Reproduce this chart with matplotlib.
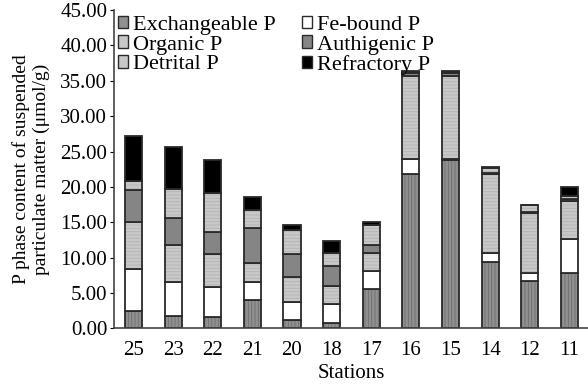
import matplotlib
matplotlib.use('Agg')
import matplotlib.pyplot as plt
import numpy as np
from matplotlib.patches import Patch

plt.rcParams['font.family'] = ['Liberation Serif', 'DejaVu Serif']
plt.rcParams['hatch.linewidth'] = 0.6

# dados (umol/g), de baixo para cima
estacoes = ['25', '23', '22', '21', '20', '18', '17', '16', '15', '14', '12', '11']
exch = [2.5, 1.75, 1.55, 4.0, 1.2, 0.8, 5.6, 21.8, 23.8, 9.4, 6.7, 7.9]
fe = [5.9, 4.75, 4.25, 2.6, 2.6, 2.6, 2.5, 2.1, 0.2, 1.2, 1.2, 4.7]
org = [6.7, 5.3, 4.7, 2.7, 3.4, 2.6, 2.5, 11.8, 11.7, 11.2, 8.4, 5.4]
auth = [4.4, 3.8, 3.1, 4.9, 3.3, 2.8, 1.2, 0.4, 0.4, 0.1, 0.1, 0.3]
det = [1.4, 4.1, 5.5, 2.6, 3.4, 1.9, 2.8, 0.15, 0.15, 0.8, 1.0, 0.4]
ref = [6.3, 6.0, 4.7, 1.8, 0.7, 1.7, 0.4, 0.15, 0.15, 0.1, 0.05, 1.3]

nomes = ['Exchangeable P', 'Fe-bound P', 'Organic P', 'Authigenic P', 'Detrital P', 'Refractory P']
series = [exch, fe, org, auth, det, ref]
# (cor, hachura, cor da hachura)
estilos = [('#909090', '|||||', '#6e6e6e'),
           ('#ffffff', None, '#ffffff'),
           ('#c8c8c8', '-----', '#b4b4b4'),
           ('#858585', None, '#858585'),
           ('#c8c8c8', '-----', '#b4b4b4'),
           ('#000000', None, '#000000')]

fig = plt.figure(figsize=(5.88, 3.85), dpi=100)
ax = fig.add_axes([0.194, 0.147, 0.806, 0.827])

x = np.arange(len(estacoes))
w = 0.43
base = np.zeros(len(estacoes))
for vals, (cor, hatch, hc) in zip(series, estilos):
    vals = np.array(vals)
    ax.bar(x, vals, w, bottom=base, color=cor, edgecolor=hc, hatch=hatch, linewidth=0)
    ax.bar(x, vals, w, bottom=base, fill=False, edgecolor='#2a2a2a', linewidth=1.3)
    base = base + vals

ax.set_xlim(-0.49, 11.47)
ax.set_ylim(0, 45)
ax.set_yticks(np.arange(0, 46, 5))
ax.set_yticklabels(['%.2f' % v for v in np.arange(0, 46, 5)])
ax.set_xticks(x)
ax.set_xticklabels(estacoes)
ax.tick_params(axis='x', length=0, pad=9, labelsize=15)
ax.tick_params(axis='y', length=3, direction='out', labelsize=15, pad=2)
ax.spines['top'].set_visible(False)
ax.spines['right'].set_visible(False)
ax.spines['left'].set_color('#444444')
ax.spines['bottom'].set_color('#444444')
ax.spines['left'].set_linewidth(1.2)
ax.spines['bottom'].set_linewidth(1.2)

ax.set_xlabel('Stations', fontsize=15, labelpad=3)
ax.set_ylabel('P phase content of suspended\nparticulate matter (\u03bcmol/g)', fontsize=14,
              labelpad=7, linespacing=1.25)

handles = [Patch(facecolor=e[0], edgecolor='#2a2a2a', linewidth=1.0) for e in estilos]
# ordem da legenda em duas colunas
ordem = [0, 2, 4, 1, 3, 5]
ax.legend([handles[i] for i in ordem], [nomes[i] for i in ordem], ncol=2, loc='upper left',
          bbox_to_anchor=(-0.01, 1.01), frameon=False, fontsize=16, handlelength=0.45,
          handleheight=0.5, handletextpad=0.2, columnspacing=1.2, labelspacing=0.02,
          borderaxespad=0)

plt.savefig('out.png', dpi=100)
